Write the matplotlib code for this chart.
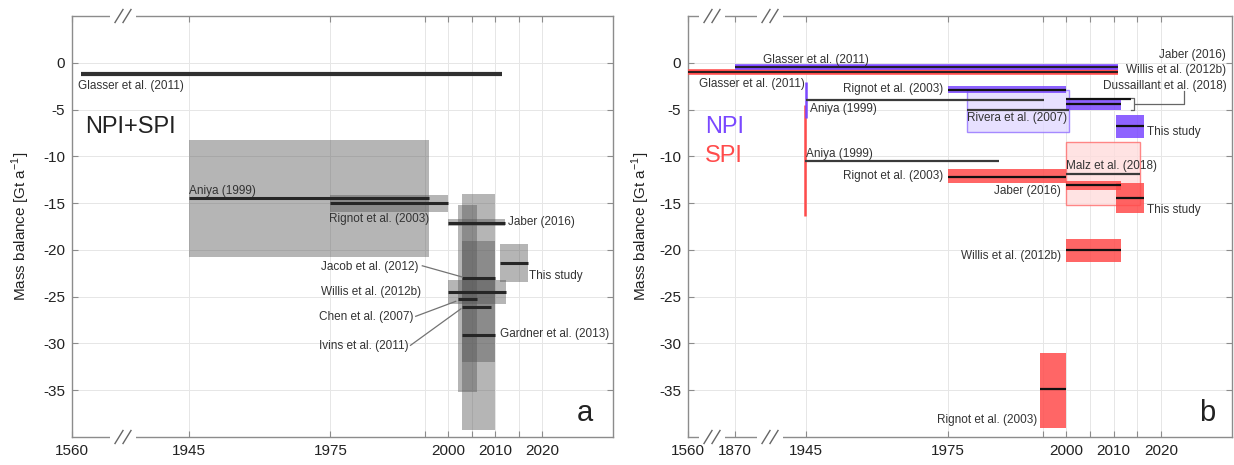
import matplotlib.pyplot as plt
import numpy as np

plt.rcParams['font.family'] = ['Liberation Sans', 'DejaVu Sans']
plt.rcParams['axes.unicode_minus'] = False

# ---------------- panel a : NPI+SPI ----------------
a_names = ["Aniya (1999)", "Rignot et al. (2003)", "Jaber (2016)", "Jacob et al. (2012)",
           "Willis et al. (2012b)", "Chen et al. (2007)", "Ivins et al. (2011)",
           "Gardner et al. (2013)", "This study"]
a_start = [1944, 1975, 2000, 2003, 2000, 2002, 2003, 2003, 2011]
a_end = [1996, 2000, 2012, 2010, 2012.3, 2006.2, 2009, 2010, 2017]
a_mb = [-14.5, -15.0, -17.1, -23.0, -24.5, -25.2, -26.1, -29.1, -21.4]
a_top = [-8.3, -14.1, -16.7, -14.0, -23.2, -15.2, np.nan, -19.0, -19.4]
a_bot = [-20.8, -16.0, -17.5, -32.0, -25.8, -35.2, np.nan, -39.2, -23.4]

a_glasser = (1590, 2011.5, -1.2)

# ---------------- panel b : NPI / SPI ----------------
npi_names = ["Glasser et al. (2011)", "Rignot et al. (2003)", "Aniya (1999)", "Rivera et al. (2007)",
             "Willis et al. (2012b)", "Jaber (2016)", "This study"]
npi_start = [1870, 1975, 1945, 1979, 2000, 2000, 2010.4]
npi_end = [2011, 2000, 1995.3, 2000.6, 2011.5, 2013.6, 2016.5]
npi_mb = [-0.5, -2.9, -4.0, -5.05, -4.45, -3.9, -6.8]
npi_top = [np.nan, -2.5, -2.1, -2.9, -3.9, np.nan, -5.6]
npi_bot = [np.nan, -3.25, -5.95, -7.4, -5.1, np.nan, -8.0]

spi_names = ["Glasser et al. (2011)", "Aniya (1999)", "Rignot et al. (2003)", "Malz et al. (2018)",
             "Jaber (2016)", "This study", "Willis et al. (2012b)", "Rignot et al. (2003)"]
spi_start = [1560, 1944, 1975, 2000, 2000, 2010.4, 2000, 1994.5]
spi_end = [2011, 1985.8, 2000, 2015.5, 2011.5, 2016.5, 2011.5, 2000]
spi_mb = [-1.0, -10.5, -12.2, -11.9, -13.1, -14.5, -20.05, -34.9]
spi_top = [np.nan, -4.5, -11.4, -8.5, -12.65, -12.9, -18.85, -31.0]
spi_bot = [np.nan, -16.4, -12.9, -15.2, -13.55, -16.1, -21.25, -39.0]

a_xticks = [1560, 1945, 1975, 1995, 2000, 2005, 2010, 2015, 2020]
b_xticks = [1560, 1870, 1945, 1975, 1995, 2000, 2005, 2010, 2015, 2020]
x_labeled = [1560, 1870, 1945, 1975, 2000, 2010, 2020]
y_ticks = [-35, -30, -25, -20, -15, -10, -5, 0]

BLUE = '#7A48FF'
RED = '#FF4B4B'
TXT = '#333333'
FRAME = '0.55'

W, H = 1234, 465
fig = plt.figure(figsize=(W / 100, H / 100), dpi=100)
axa = fig.add_axes([72 / W, 28 / H, 541 / W, 421 / H])
axb = fig.add_axes([688 / W, 28 / H, 544 / W, 421 / H])


def year_scale(ax, years, pos):
    years = np.asarray(years, float)
    pos = np.asarray(pos, float)
    ax.set_xscale('function', functions=(lambda x: np.interp(x, years, pos),
                                         lambda p: np.interp(p, pos, years)))


def style(ax, xticks, pad):
    ax.set_xlim(1560, 2035)
    ax.set_ylim(-40, 5)
    ax.set_xticks(xticks)
    ax.set_xticklabels([str(t) if t in x_labeled else '' for t in xticks])
    ax.set_yticks(y_ticks)
    ax.tick_params(direction='in', length=4, width=0.8, color=FRAME, labelsize=11,
                   labelcolor='#222222', top=True, right=True, pad=5)
    ax.grid(True, color='0.9', lw=0.7)
    ax.set_axisbelow(True)
    for s in ax.spines.values():
        s.set_color(FRAME)
        s.set_linewidth(1.0)
    ax.set_ylabel('Mass balance [Gt a$^{\\mathregular{-1}}$]', fontsize=11, color='#222222', labelpad=pad)


def axis_break(ax, xpx, width_px, height_px=421):
    xf = xpx / width_px
    g = 13 / width_px
    for yy in (0, 1):
        ax.plot([xf - g, xf + g], [yy, yy], transform=ax.transAxes, color='white', lw=3,
                clip_on=False, zorder=5, solid_capstyle='butt')
        for dx in (-4, 4):
            x0 = xf + (dx - 4) / width_px
            x1 = xf + (dx + 4) / width_px
            ax.plot([x0, x1], [yy - 6.5 / height_px, yy + 6.5 / height_px], transform=ax.transAxes,
                    color='0.4', lw=1.0, clip_on=False, zorder=6)


# ---------------- draw panel a ----------------
year_scale(axa, [1560, 1945, 2035], [0, 117, 540])
style(axa, a_xticks, 8)

for s, e, m, t, b in zip(a_start, a_end, a_mb, a_top, a_bot):
    if not np.isnan(t):
        axa.bar(s, t - b, width=e - s, bottom=b, align='edge', color='#555555', alpha=0.43, lw=0, zorder=2)
for s, e, m in zip(a_start, a_end, a_mb):
    axa.hlines(m, s, e, color='#262626', lw=2.2, zorder=3)
axa.hlines(a_glasser[2], a_glasser[0], a_glasser[1], color='#303030', lw=3, zorder=3)

fs = 8.5
axa.text(1580, -2.5, "Glasser et al. (2011)", fontsize=fs, color=TXT, va='center')
axa.text(1944.5, -13.75, a_names[0], fontsize=fs, color=TXT, va='center')
axa.text(1996, -16.7, a_names[1], fontsize=fs, color=TXT, va='center', ha='right')
axa.text(2012.6, -17.06, a_names[2], fontsize=fs, color=TXT, va='center')
axa.text(2017.1, -22.8, a_names[8], fontsize=fs, color=TXT, va='center')
axa.text(2011, -29.0, a_names[7], fontsize=fs, color=TXT, va='center')
axa.text(1993.7, -21.8, a_names[3], fontsize=fs, color=TXT, va='center', ha='right')
axa.text(1994.3, -24.5, a_names[4], fontsize=fs, color=TXT, va='center', ha='right')
axa.text(1992.7, -27.2, a_names[5], fontsize=fs, color=TXT, va='center', ha='right')
axa.text(1991.6, -30.3, a_names[6], fontsize=fs, color=TXT, va='center', ha='right')
for p0, p1 in [((1994.5, -21.7), (2003, -22.9)), ((1993.1, -27.1), (2001.6, -25.5)),
               ((1992, -30.2), (2002.7, -26.3))]:
    axa.plot([p0[0], p1[0]], [p0[1], p1[1]], color='0.45', lw=0.9, zorder=3)

axa.text(0.024, 0.7356, "NPI+SPI", transform=axa.transAxes, fontsize=17, color='#222222', va='center')
axa.text(0.948, 0.058, "a", transform=axa.transAxes, fontsize=21, color='#222222', va='center', ha='center')
axis_break(axa, 51, 541)

# ---------------- draw panel b ----------------
year_scale(axb, [1560, 1870, 1945, 2035], [0, 47, 118, 544])
style(axb, b_xticks, 5)

light = {"Rivera et al. (2007)": ('#E2D9FF', '#9270FF'), "Malz et al. (2018)": ('#FFDCDC', '#FF6B6B')}


def draw_group(ax, names, start, end, mb, top, bot, color):
    for n, s, e, m, t, b in zip(names, start, end, mb, top, bot):
        if np.isnan(t):
            continue
        if n.startswith("Aniya"):
            ax.vlines(s, b, t, color=color, lw=1.8, zorder=3)
        elif n in light:
            fc, ec = light[n]
            ax.bar(s, t - b, width=e - s, bottom=b, align='edge', color=fc, edgecolor=ec, lw=1.0, alpha=0.8, zorder=2)
    for n, s, e, m, t, b in zip(names, start, end, mb, top, bot):
        if np.isnan(t) or n.startswith("Aniya") or n in light:
            continue
        ax.bar(s, t - b, width=e - s, bottom=b, align='edge', color=color, alpha=0.85, lw=0, zorder=2)
    for n, s, e, m in zip(names, start, end, mb):
        if n.startswith("Glasser"):
            ax.hlines(m, s, e, color=color, lw=4, zorder=3)
            ax.hlines(m, s, e, color='#1a1a1a', lw=1.3, zorder=4)
        elif n.startswith("Aniya") or n in light:
            ax.hlines(m, s, e, color='#3a3a3a', lw=1.6, zorder=4)
        else:
            ax.hlines(m, s, e, color='#111111', lw=1.6, zorder=4)


draw_group(axb, spi_names, spi_start, spi_end, spi_mb, spi_top, spi_bot, RED)
draw_group(axb, npi_names, npi_start, npi_end, npi_mb, npi_top, npi_bot, BLUE)

axb.text(1900, 0.25, npi_names[0], fontsize=fs, color=TXT, va='center')
axb.text(1943.5, -2.3, spi_names[0], fontsize=fs, color=TXT, va='center', ha='right')
axb.text(1974, -2.8, npi_names[1], fontsize=fs, color=TXT, va='center', ha='right')
axb.text(1945.8, -4.95, npi_names[2], fontsize=fs, color=TXT, va='center')
axb.text(1979, -5.95, npi_names[3], fontsize=fs, color=TXT, va='center')
axb.text(2033.8, 0.85, "Jaber (2016)", fontsize=fs, color=TXT, va='center', ha='right')
axb.text(2033.8, -0.8, "Willis et al. (2012b)", fontsize=fs, color=TXT, va='center', ha='right')
axb.text(2033.8, -2.45, "Dussaillant et al. (2018)", fontsize=fs, color=TXT, va='center', ha='right')
axb.text(2017, -7.45, npi_names[6], fontsize=fs, color=TXT, va='center')
axb.text(1944.6, -9.7, spi_names[1], fontsize=fs, color=TXT, va='center')
axb.text(1974, -12.1, spi_names[2], fontsize=fs, color=TXT, va='center', ha='right')
axb.text(2000, -11.05, spi_names[3], fontsize=fs, color=TXT, va='center')
axb.text(1998.8, -13.7, spi_names[4], fontsize=fs, color=TXT, va='center', ha='right')
axb.text(2017, -15.7, spi_names[5], fontsize=fs, color=TXT, va='center')
axb.text(1998.8, -20.6, spi_names[6], fontsize=fs, color=TXT, va='center', ha='right')
axb.text(1993.9, -38.2, spi_names[7], fontsize=fs, color=TXT, va='center', ha='right')

# Dussaillant leader with bracket
axb.plot([2024.8, 2024.8, 2014.6], [-3.0, -4.45, -4.45], color='0.4', lw=0.9, zorder=4)
axb.plot([2013.6, 2014.3, 2014.3, 2013.6], [-3.8, -3.8, -5.1, -5.1], color='0.4', lw=0.9, zorder=4)

axb.text(0.031, 0.7356, "NPI", transform=axb.transAxes, fontsize=17, color=BLUE, va='center')
axb.text(0.031, 0.667, "SPI", transform=axb.transAxes, fontsize=17, color=RED, va='center')
axb.text(0.955, 0.058, "b", transform=axb.transAxes, fontsize=21, color='#222222', va='center', ha='center')
axis_break(axb, 24, 544)
axis_break(axb, 82, 544)

fig.savefig('out.png', dpi=100)
